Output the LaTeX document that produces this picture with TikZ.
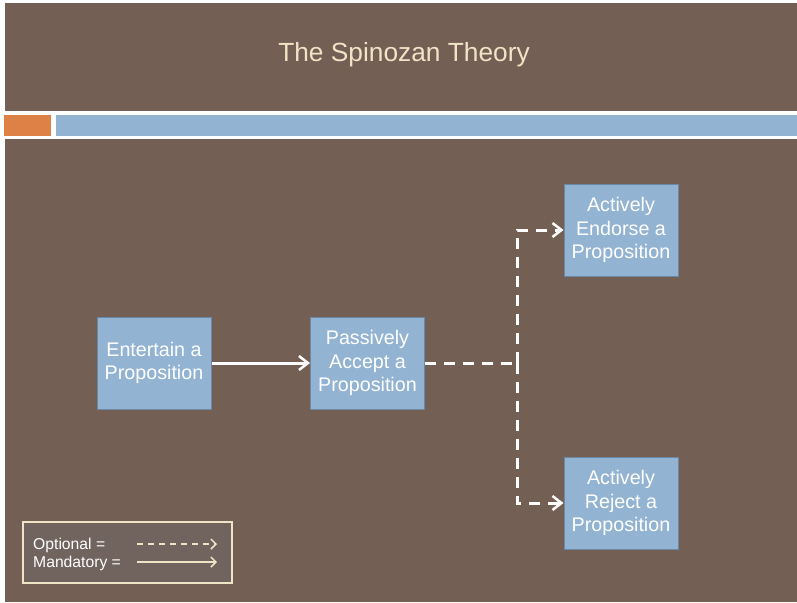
\documentclass[tikz,border=0pt]{standalone}
\usepackage{fontspec}
\setmainfont{Liberation Sans}
\usetikzlibrary{arrows.meta}
\definecolor{bgbrown}{HTML}{735F53}
\definecolor{boxblue}{HTML}{93B3D2}
\definecolor{boxedge}{HTML}{6A89A6}
\definecolor{cream}{HTML}{F0E4C6}
\definecolor{orangebar}{HTML}{DD8146}
\definecolor{legfill}{HTML}{71645F}
\tikzset{
  stepbox/.style={draw=boxedge, line width=1pt, fill=boxblue, text=white,
    minimum width=114pt, minimum height=92pt, inner sep=0pt, align=center,
    font=\fontsize{19.7}{23.7}\selectfont},
  mandarrow/.style={draw=white, line width=3pt, -{Straight Barb[length=9pt,width=14pt,line width=2.5pt]}},
  optline/.style={draw=white, line width=3pt, dash pattern=on 11pt off 8pt},
  optarrow/.style={optline, -{Straight Barb[length=9pt,width=14pt,line width=2.5pt]}},
  legtext/.style={text=white, anchor=west, inner sep=0pt, font=\fontsize{15.7}{18}\selectfont},
}
\begin{document}
\begin{tikzpicture}[x=1pt,y=-1pt]
\useasboundingbox (0,0) rectangle (797,602);
\fill[white] (0,0) rectangle (797,602);
\fill[bgbrown] (5,3) rectangle (797,110.5);
\fill[orangebar] (4,115) rectangle (50.5,135.5);
\fill[boxblue] (55.5,115) rectangle (797,135.5);
\fill[bgbrown] (5,139) rectangle (797,602);
\node[text=cream, font=\fontsize{26.3}{30}\selectfont] (title) at (404,55) {The Spinozan Theory};

\node[stepbox] (entertain) at (154,363) {Entertain a\\Proposition};
\node[stepbox] (passive) at (367.5,363) {Passively\\Accept a\\Proposition};
\node[stepbox] (endorse) at (621,230) {Actively\\Endorse a\\Proposition};
\node[stepbox] (reject) at (621,503) {Actively\\Reject a\\Proposition};
\coordinate (junction) at (517,363);

\draw[mandarrow] (entertain.east) -- (passive.west);
\draw[optline] (passive.east) -- (junction);
\draw[optarrow] (junction) |- (endorse.west);
\draw[optarrow] (junction) |- (reject.west);

\node[draw=cream, line width=1.5pt, fill=legfill, minimum width=209pt, minimum height=61pt, inner sep=0pt] (legend) at (127.5,552.5) {};
\node[legtext] (optlabel) at (33,545) {Optional =};
\node[legtext] (mandlabel) at (33,563) {Mandatory =};
\coordinate (optA) at (137,544);
\coordinate (optB) at (217,544);
\coordinate (manA) at (137,562);
\coordinate (manB) at (217,562);
\draw[draw=cream, line width=1.5pt, dash pattern=on 6pt off 5pt, -{Straight Barb[length=5pt,width=10pt,line width=1.5pt]}] (optA) -- (optB);
\draw[draw=cream, line width=1.5pt, -{Straight Barb[length=5pt,width=10pt,line width=1.5pt]}] (manA) -- (manB);
\end{tikzpicture}
\end{document}
